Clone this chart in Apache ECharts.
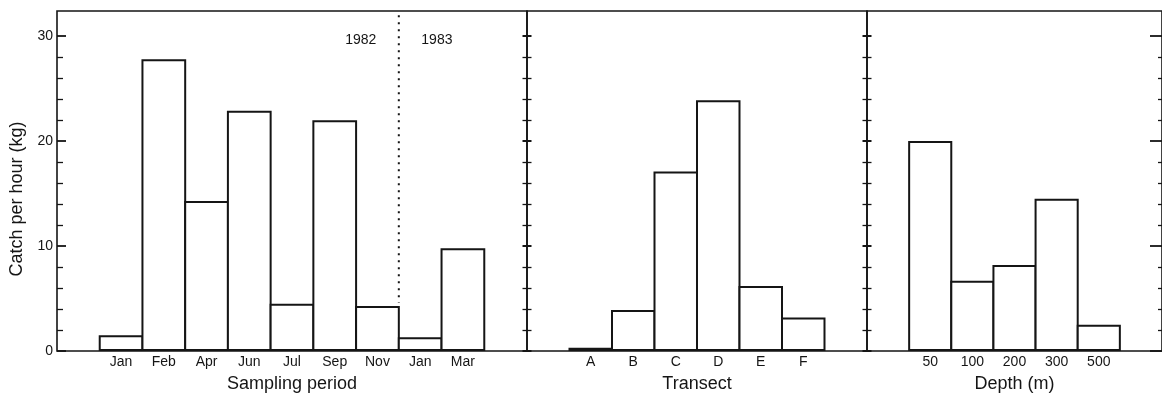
<!DOCTYPE html>
<html><head><meta charset="utf-8">
<script src="https://cdn.jsdelivr.net/npm/echarts@6/dist/echarts.min.js"></script>
<style>html,body{margin:0;padding:0;background:#fff}#c{width:1162px;height:398px}</style>
</head><body><div id="c"></div>
<script>
// ---- data ----
const periods = ['Jan','Feb','Apr','Jun','Jul','Sep','Nov','Jan','Mar'];
const periodYears = [1982,1982,1982,1982,1982,1982,1982,1983,1983];
const periodCatch = [1.5,27.8,14.3,22.9,4.5,22.0,4.3,1.3,9.8];
const transects = ['A','B','C','D','E','F'];
const transectCatch = [0.3,3.9,17.1,23.9,6.2,3.2];
const depths = ['50','100','200','300','500'];
const depthCatch = [20.0,6.7,8.2,14.5,2.5];
const yMajorTicks = [0,10,20,30];
const yMinorTicks = [2,4,6,8,12,14,16,18,22,24,26,28];
const yearLabels = ['1982','1983'];
const yearDividerSpan = [32.0, 4.6];
const yearLabelLevel = 29.6;
const yMax = 32.4;
const yTitle = 'Catch per hour (kg)';
const xTitles = ['Sampling period','Transect','Depth (m)'];

// ---- style ----
const INK = '#151515';
const FONT = '"Liberation Sans", Arial, Helvetica, sans-serif';

const pad = a => [''].concat(a, ['']);
const padV = a => [null].concat(a, [null]);

const grids = [
  {left:57, top:11, width:470, height:344.5},
  {left:527, top:11, width:340, height:344.5},
  {left:867, top:11, width:295, height:344.5}
].map(g => Object.assign(g, {show:true, borderColor:INK, borderWidth:1.6, backgroundColor:'transparent'}));

function xCat(i, cats) {
  return {
    type:'category', gridIndex:i, data:pad(cats),
    axisLine:{show:false}, axisTick:{show:false}, splitLine:{show:false},
    axisLabel:{show:true, interval:0, margin:4, fontSize:14, color:INK, fontFamily:FONT},
    name:xTitles[i], nameLocation:'middle', nameGap:24,
    nameTextStyle:{fontSize:18, color:INK, fontFamily:FONT}
  };
}

const yAxes = [];
function yAx(grid, pos, values, len, width, labels) {
  yAxes.push({
    type:'value', gridIndex:grid, position:pos, min:0, max:yMax,
    axisLine:{show:false}, splitLine:{show:false},
    axisTick:{show:true, inside:true, length:len, customValues:values, lineStyle:{color:INK, width:width}},
    axisLabel: labels ? {show:true, customValues:yMajorTicks, margin:4, fontSize:14, color:INK, fontFamily:FONT} : {show:false}
  });
  return yAxes.length - 1;
}
// grid 0
const y0 = yAx(0,'left', yMajorTicks, 9, 1.8, true);
yAx(0,'left', yMinorTicks, 6, 1.3, false);
yAx(0,'right', yMajorTicks, 4.5, 2, false);
yAx(0,'right', yMinorTicks, 4.5, 1.3, false);
// grid 1
const y1 = yAx(1,'left', yMajorTicks, 4.5, 2, false);
yAx(1,'left', yMinorTicks, 4.5, 1.3, false);
yAx(1,'right', yMajorTicks, 4.5, 2, false);
yAx(1,'right', yMinorTicks, 4.5, 1.3, false);
// grid 2
const y2 = yAx(2,'left', yMajorTicks, 4.5, 2, false);
yAx(2,'left', yMinorTicks, 4.5, 1.3, false);
yAx(2,'right', yMajorTicks, 12, 1.8, false);
yAx(2,'right', yMinorTicks, 4, 1.3, false);

const xAxes = [xCat(0, periods), xCat(1, transects), xCat(2, depths),
  {type:'value', gridIndex:0, min:0, max:periods.length + 2, show:false}];

const boundary = 1 + periodYears.filter(y => y === periodYears[0]).length;

function bars(i, yi, vals) {
  return {
    type:'bar', xAxisIndex:i, yAxisIndex:yi, data:padV(vals),
    barWidth:'104.7%', barGap:0,
    itemStyle:{color:'#fff', borderColor:INK, borderWidth:2},
    silent:true
  };
}

const option = {
  animation:false,
  backgroundColor:'#fff',
  grid:grids,
  xAxis:xAxes,
  yAxis:yAxes,
  graphic:[{
    type:'text', x:17, y:199, rotation:Math.PI/2,
    style:{text:yTitle, align:'center', verticalAlign:'middle', fontSize:18, fill:INK, fontFamily:FONT}
  }],
  series:[
    bars(0, y0, periodCatch),
    bars(1, y1, transectCatch),
    bars(2, y2, depthCatch),
    {
      type:'line', xAxisIndex:3, yAxisIndex:y0, silent:true, symbol:'none', z:5,
      data:[[boundary, yearDividerSpan[0]], [boundary, yearDividerSpan[1]]],
      lineStyle:{color:INK, width:2, type:[2,5]},
      markPoint:{
        symbol:'circle', symbolSize:1, silent:true,
        itemStyle:{color:'rgba(0,0,0,0)'},
        label:{show:true, fontSize:14, color:INK, fontFamily:FONT, distance:22},
        data:[
          {coord:[boundary, yearLabelLevel], label:{formatter:yearLabels[0], position:'left'}},
          {coord:[boundary, yearLabelLevel], label:{formatter:yearLabels[1], position:'right'}}
        ]
      }
    }
  ]
};
const chart = echarts.init(document.getElementById('c'), null, {renderer:'canvas'});
chart.setOption(option);
</script></body></html>
